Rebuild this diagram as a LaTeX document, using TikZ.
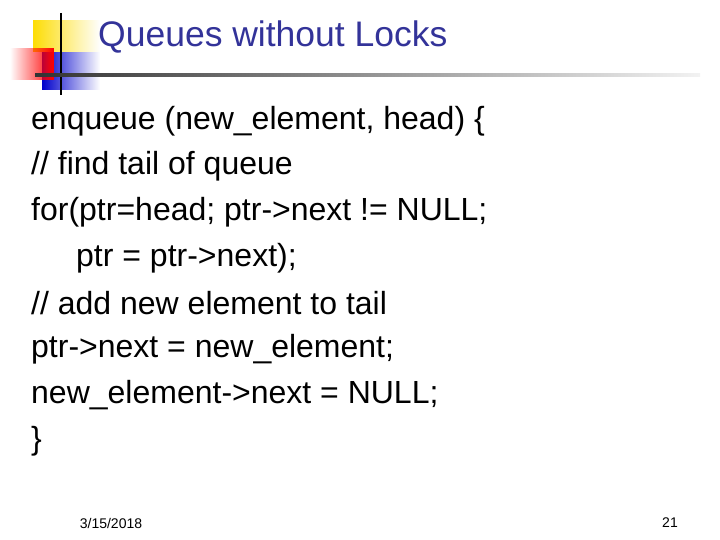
\documentclass[tikz,border=0pt]{standalone}
\usepackage{fontspec}
\setmainfont{Liberation Sans}
\usetikzlibrary{fadings}
\definecolor{ttl}{RGB}{51,51,153}
\begin{document}
\begin{tikzpicture}[x=1pt,y=-1pt,
 code/.style={anchor=west,font=\fontsize{32}{36}\selectfont,inner sep=0pt},
 foot/.style={font=\fontsize{14}{16}\selectfont,inner sep=0pt}]
\useasboundingbox[fill=white] (0,0) rectangle (720,540);
\fill[yellow!80!orange,path fading=east] (33,20) rectangle (100,52);
\fill[blue!80!black,path fading=east] (42,52) rectangle (100,90);
\fill[red,path fading=west] (10,48) rectangle (54,80);
\draw[line width=2pt] (61,13) -- (61,95);
\shade[left color=black!80,right color=black!5] (35,73.5) rectangle (700,76.5);
\node[anchor=west,text=ttl,font=\fontsize{35.5}{40}\selectfont,inner sep=0pt] (t) at (98,37) {Queues without Locks};
\node[code] (l1) at (31,121) {enqueue (new\_element, head) \{};
\node[code] (l2) at (31,166) {// find tail of queue};
\node[code] (l3) at (31,212) {for(ptr=head; ptr->next != NULL;};
\node[code] (l4) at (76,258) {ptr = ptr->next);};
\node[code] (l5) at (31,303) {// add new element to tail};
\node[code] (l6) at (31,349) {ptr->next = new\_element;};
\node[code] (l7) at (31,395) {new\_element->next = NULL;};
\node[code] (l8) at (31,441) {\}};
\node[foot] (d) at (111,523) {3/15/2018};
\node[foot] (p) at (670,523) {21};
\end{tikzpicture}
\end{document}
